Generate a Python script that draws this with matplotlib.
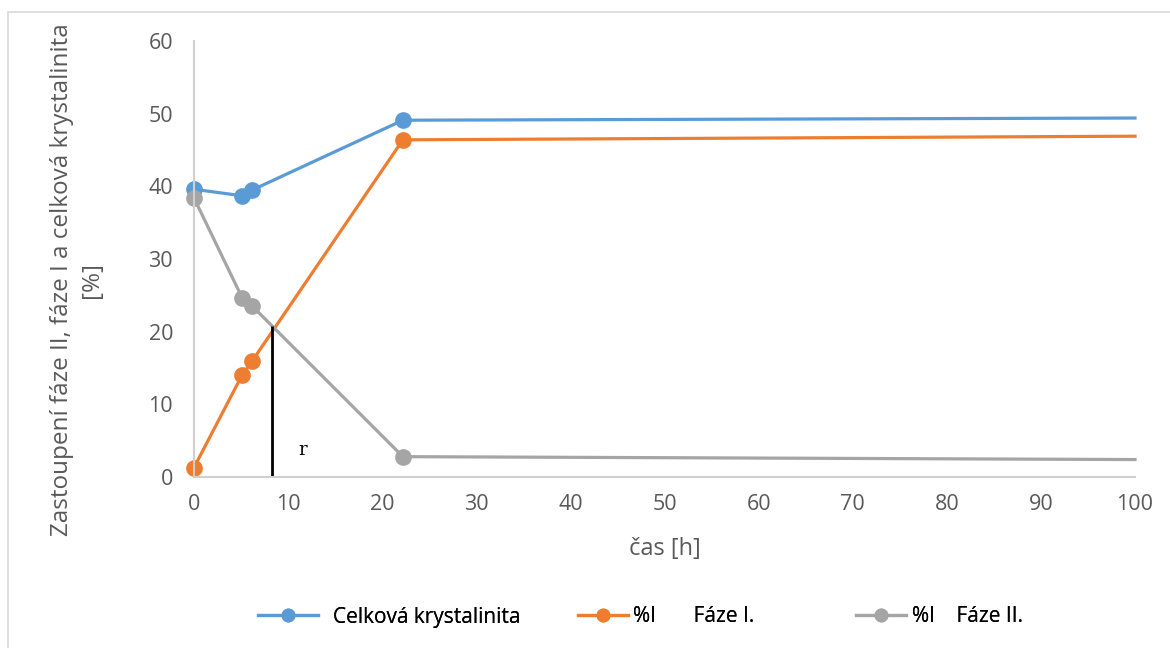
import matplotlib
matplotlib.use('Agg')
import matplotlib.pyplot as plt
import matplotlib.patches as mpatches
from matplotlib.lines import Line2D

# time [h]
cas = [0, 5.1, 6.2, 22.2, 100]
celkova = [39.6, 38.7, 39.5, 49.1, 49.4]
faze_1 = [1.3, 14.0, 16.0, 46.4, 46.9]
faze_2 = [38.4, 24.7, 23.5, 2.8, 2.4]

labels = ['Celková krystalinita', '%I       Fáze I.', '%I    Fáze II.']

r_x = 8.3
r_top = 20.8

colors = ['#5B9BD5', '#ED7D31', '#A5A5A5']
txt_color = '#595959'

plt.rcParams['font.family'] = ['Open Sans', 'DejaVu Sans']

fig = plt.figure(figsize=(11.7, 6.48), dpi=100)
fig.patches.append(mpatches.Rectangle((8 / 1170, -0.1), 1.2, (648 - 12) / 648 + 0.1,
                                      transform=fig.transFigure, fill=False,
                                      edgecolor='#D9D9D9', linewidth=1.2))
ax = fig.add_axes((194 / 1170, 1 - 477 / 648, (1135 - 194) / 1170, (477 - 41) / 648))

kw = dict(linewidth=2.3, marker='o', markersize=11, markevery=[0, 1, 2, 3])
for ys, c, lab in zip([celkova, faze_1, faze_2], colors, labels):
    ax.plot(cas, ys, color=c, label=lab, **kw)

ax.plot([r_x, r_x], [0, r_top], color='black', linewidth=2, solid_capstyle='butt')
ax.text(11.5, 3.7, 'r', family='DejaVu Serif', fontsize=13, ha='center', va='center')

ax.set_xlim(0, 100)
ax.set_ylim(0, 60)
ax.set_xticks(range(0, 101, 10))
ax.set_yticks(range(0, 61, 10))
for s in ['top', 'right']:
    ax.spines[s].set_visible(False)
for s in ['left', 'bottom']:
    ax.spines[s].set_color('#D0D0D0')
    ax.spines[s].set_linewidth(1.5)
ax.tick_params(length=0, labelsize=15.5, colors=txt_color)
ax.tick_params(axis='y', pad=15)
ax.tick_params(axis='x', pad=12)
for l in ax.lines:
    l.set_clip_on(False)

ax.set_xlabel('čas [h]', fontsize=17, color=txt_color, labelpad=16)
fig.text(77 / 1170, 1 - 280 / 648, 'Zastoupení fáze II, fáze I a celková krystalinita\n[%]',
         rotation=90, ha='center', va='center', fontsize=17.5, color=txt_color,
         multialignment='center', linespacing=1.35)

# legend entries placed one by one, like the spread-out original
leg_x = [258, 578, 856]
leg_len = [2.9, 2.4, 2.4]
leg_pad = [0.7, 0.25, 0.3]
for x, c, lab, hl, tp in zip(leg_x, colors, labels, leg_len, leg_pad):
    h = Line2D([], [], color=c, linewidth=2.3, marker='o', markersize=9)
    leg = fig.legend([h], [lab], loc='center left', bbox_to_anchor=(x / 1170, 1 - 617 / 648),
                     frameon=False, fontsize=15, handlelength=hl, handletextpad=tp,
                     borderpad=0, borderaxespad=0)
    fig.add_artist(leg)

fig.savefig('out.png', dpi=100)
